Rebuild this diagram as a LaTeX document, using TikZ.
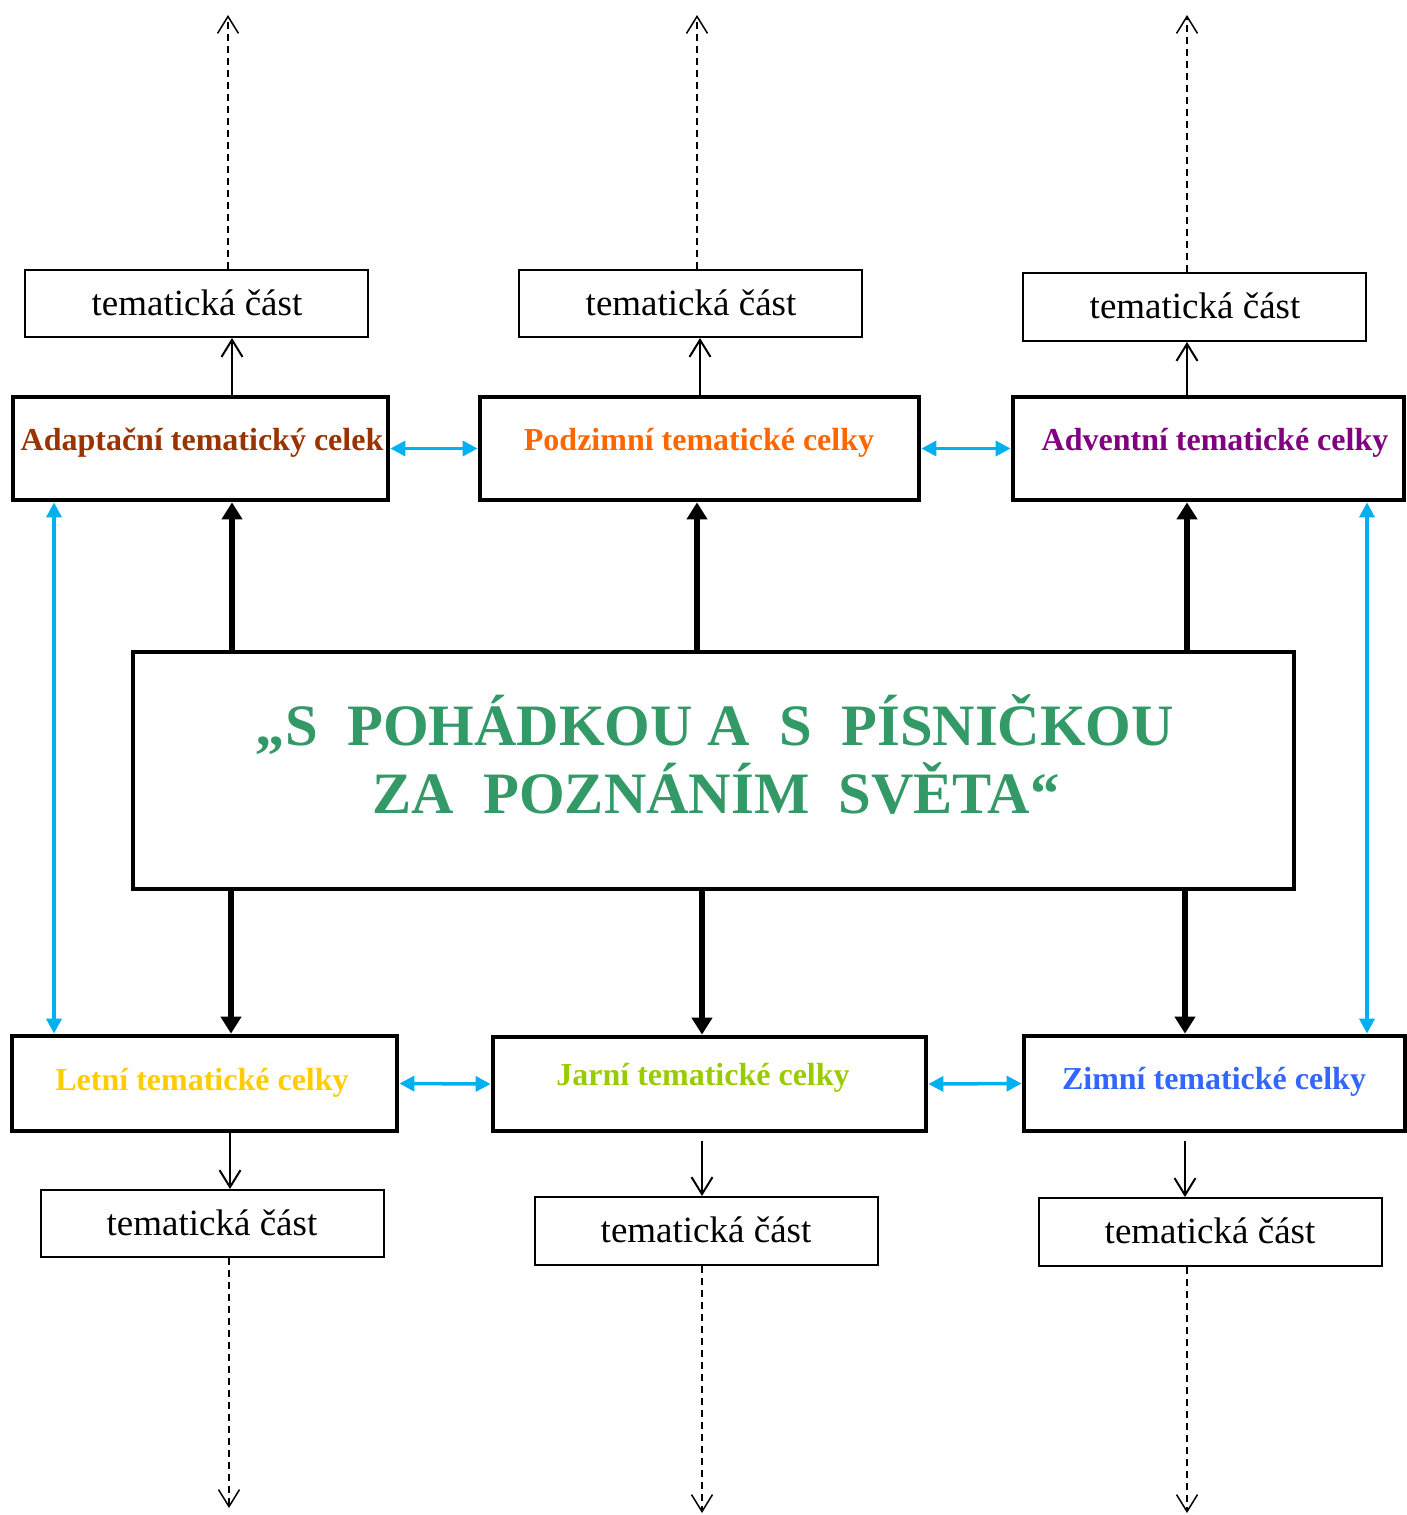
\documentclass[tikz,border=0pt]{standalone}
\usepackage{fontspec}
\setmainfont{Liberation Serif}
\usetikzlibrary{arrows.meta}
\definecolor{cAda}{HTML}{993300}
\definecolor{cPod}{HTML}{FF6600}
\definecolor{cAdv}{HTML}{800080}
\definecolor{cLet}{HTML}{FFCC00}
\definecolor{cJar}{HTML}{99CC00}
\definecolor{cZim}{HTML}{3366FF}
\definecolor{cMain}{HTML}{339966}
\definecolor{cLink}{HTML}{00B0F0}
\begin{document}
\begin{tikzpicture}[x=1pt,y=-1pt,
  bigbox/.style={draw,line width=4.8pt,inner sep=0pt},
  partbox/.style={draw,line width=2pt,inner sep=0pt,minimum width=343pt,minimum height=67pt},
  partlabel/.style={anchor=base,font=\fontsize{37}{44}\selectfont,inner sep=0pt},
  unitlabel/.style={anchor=base,font=\bfseries\fontsize{32}{38}\selectfont,inner sep=0pt},
  mainlabel/.style={anchor=base,font=\bfseries\fontsize{58.7}{68}\selectfont,text=cMain,inner sep=0pt},
  heavy/.style={line width=5.5pt,-{Triangle[length=17pt,width=20pt]}},
  light/.style={line width=2pt,-{Straight Barb[length=17pt,width=21pt]}},
  further/.style={line width=1.5pt,dash pattern=on 7pt off 5pt,-{Straight Barb[length=17pt,width=21pt]}},
  link/.style={line width=3.5pt,cLink,{Triangle[length=15pt,width=15pt]}-{Triangle[length=15pt,width=15pt]}}
]
\useasboundingbox (0,0) rectangle (1407,1515);

% main box
\node[bigbox,minimum width=1161pt,minimum height=237pt] (main) at (713.5,770.5) {};
\node[mainlabel] (mainA) at (715,745) {„S\ \ POHÁDKOU A\ \ S\ \ PÍSNIČKOU};
\node[mainlabel] (mainB) at (716,813) {ZA\ \ POZNÁNÍM\ \ SVĚTA“};

% unit boxes
\node[bigbox,minimum width=375pt,minimum height=103pt] (ada) at (200.5,448.5) {};
\node[bigbox,minimum width=439pt,minimum height=103pt] (pod) at (699.5,448.5) {};
\node[bigbox,minimum width=391pt,minimum height=103pt] (adv) at (1208.5,448.5) {};
\node[bigbox,minimum width=385pt,minimum height=95pt] (let) at (204.5,1083.5) {};
\node[bigbox,minimum width=433pt,minimum height=94pt] (jar) at (709.5,1084) {};
\node[bigbox,minimum width=381pt,minimum height=95pt] (zim) at (1214.5,1083.5) {};

\node[unitlabel,text=cAda] (adaL) at (202,450) {Adaptační tematický celek};
\node[unitlabel,text=cPod] (podL) at (699,450) {Podzimní tematické celky};
\node[unitlabel,text=cAdv] (advL) at (1215,450) {Adventní tematické celky};
\node[unitlabel,text=cLet] (letL) at (202,1090) {Letní tematické celky};
\node[unitlabel,text=cJar] (jarL) at (703,1085) {Jarní tematické celky};
\node[unitlabel,text=cZim] (zimL) at (1214,1089) {Zimní tematické celky};

% part boxes
\node[partbox] (t1) at (196.5,303.5) {};
\node[partbox] (t2) at (690.5,303.5) {};
\node[partbox,minimum height=68pt] (t3) at (1194.5,307) {};
\node[partbox] (b1) at (212.5,1223.5) {};
\node[partbox,minimum height=68pt] (b2) at (706,1231) {};
\node[partbox,minimum height=68pt] (b3) at (1210,1232) {};

\node[partlabel] (t1L) at (197,315) {tematická část};
\node[partlabel] (t2L) at (691,315) {tematická část};
\node[partlabel] (t3L) at (1195,318) {tematická část};
\node[partlabel] (b1L) at (212,1235) {tematická část};
\node[partlabel] (b2L) at (706,1242) {tematická část};
\node[partlabel] (b3L) at (1210,1243) {tematická část};

% column coordinates
\coordinate (xa) at (232,0);
\coordinate (xb) at (697,0);
\coordinate (xc) at (1187,0);
\coordinate (xd) at (231,0);
\coordinate (xe) at (702,0);
\coordinate (xf) at (1185,0);
\coordinate (xg) at (700,0);
\coordinate (xh) at (230,0);
\coordinate (xi) at (54,0);
\coordinate (xj) at (1367,0);
\coordinate (xk) at (228,0);
\coordinate (xl) at (229,0);

% free ends of dashed arrows
\coordinate (up1) at (228,15);
\coordinate (up2) at (697,15);
\coordinate (up3) at (1187,15);
\coordinate (dn1) at (229,1508);
\coordinate (dn2) at (702,1513);
\coordinate (dn3) at (1187,1513);

% heavy arrows from main box
\draw[heavy] (main.north -| xa) -- (ada.south -| xa);
\draw[heavy] (main.north -| xb) -- (pod.south -| xb);
\draw[heavy] (main.north -| xc) -- (adv.south -| xc);
\draw[heavy] (main.south -| xd) -- (let.north -| xd);
\draw[heavy] (main.south -| xe) -- (jar.north -| xe);
\draw[heavy] (main.south -| xf) -- (zim.north -| xf);

% light arrows to part boxes
\draw[light] (ada.north -| xa) -- (t1.south -| xa);
\draw[light] (pod.north -| xg) -- (t2.south -| xg);
\draw[light,shorten <=-4pt] (adv.north -| xc) -- (t3.south -| xc);
\draw[light] (let.south -| xh) -- (b1.north -| xh);
\draw[light,shorten <=8pt] (jar.south -| xe) -- (b2.north -| xe);
\draw[light,shorten <=8pt] (zim.south -| xf) -- (b3.north -| xf);

% dashed continuation arrows
\draw[further] (t1.north -| xk) -- (up1);
\draw[further] (t2.north -| xb) -- (up2);
\draw[further] (t3.north -| xc) -- (up3);
\draw[further] (b1.south -| xl) -- (dn1);
\draw[further] (b2.south -| xe) -- (dn2);
\draw[further] (b3.south -| xc) -- (dn3);

% links between units
\draw[link] (ada.east) -- (pod.west);
\draw[link] (pod.east) -- (adv.west);
\draw[link] (let.east) -- (jar.west);
\draw[link] (jar.east) -- (zim.west);
\draw[link] (ada.south -| xi) -- (let.north -| xi);
\draw[link] (adv.south -| xj) -- (zim.north -| xj);
\end{tikzpicture}
\end{document}
